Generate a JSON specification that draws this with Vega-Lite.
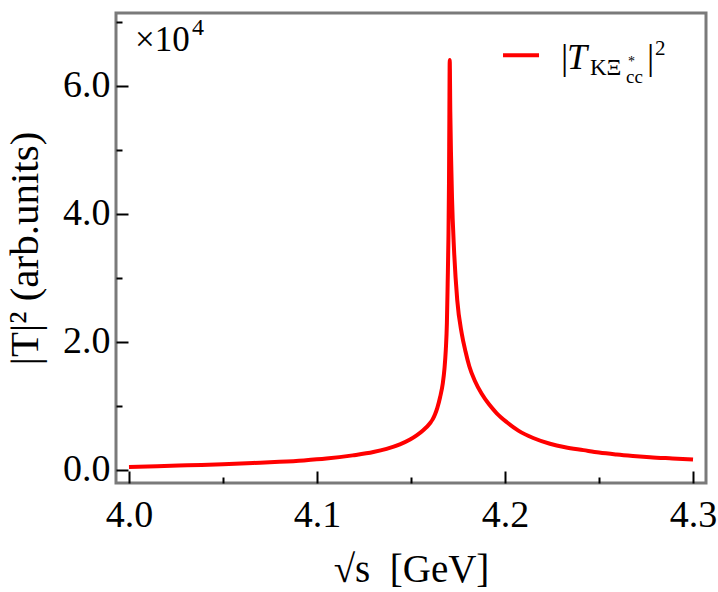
{
  "$schema": "https://vega.github.io/schema/vega-lite/v6.json",
  "width": 590,
  "height": 470,
  "autosize": {"type": "none"},
  "padding": {"left": 116, "top": 13, "right": 12, "bottom": 109},
  "background": "white",
  "config": {
    "font": "Liberation Serif",
    "view": {"stroke": "#7a7a7a", "strokeWidth": 3},
    "axis": {
      "domain": false,
      "grid": false,
      "tickColor": "black",
      "tickWidth": 2,
      "labelFont": "Liberation Serif",
      "labelFontSize": 38,
      "labelColor": "black",
      "titleFont": "Liberation Serif",
      "titleFontSize": 38,
      "titleFontWeight": "normal",
      "titleColor": "black"
    }
  },
  "layer": [
    {
      "data": {
        "values": [
          {"s": 4.000, "T2": 0.047},
          {"s": 4.015, "T2": 0.058},
          {"s": 4.031, "T2": 0.073},
          {"s": 4.050, "T2": 0.090},
          {"s": 4.066, "T2": 0.110},
          {"s": 4.080, "T2": 0.128},
          {"s": 4.093, "T2": 0.150},
          {"s": 4.105, "T2": 0.178},
          {"s": 4.119, "T2": 0.228},
          {"s": 4.130, "T2": 0.280},
          {"s": 4.137, "T2": 0.330},
          {"s": 4.1441, "T2": 0.400},
          {"s": 4.1495, "T2": 0.475},
          {"s": 4.153, "T2": 0.540},
          {"s": 4.1565, "T2": 0.620},
          {"s": 4.1601, "T2": 0.730},
          {"s": 4.1615, "T2": 0.790},
          {"s": 4.1628, "T2": 0.870},
          {"s": 4.1640, "T2": 0.970},
          {"s": 4.1655, "T2": 1.140},
          {"s": 4.1669, "T2": 1.350},
          {"s": 4.1678, "T2": 1.580},
          {"s": 4.1685, "T2": 1.870},
          {"s": 4.1691, "T2": 2.300},
          {"s": 4.1695, "T2": 2.910},
          {"s": 4.1699, "T2": 3.600},
          {"s": 4.1702, "T2": 4.470},
          {"s": 4.1704, "T2": 5.500},
          {"s": 4.1706, "T2": 6.400},
          {"s": 4.1709, "T2": 5.600},
          {"s": 4.1713, "T2": 4.900},
          {"s": 4.1718, "T2": 4.260},
          {"s": 4.1729, "T2": 3.430},
          {"s": 4.1746, "T2": 2.650},
          {"s": 4.1770, "T2": 2.130},
          {"s": 4.1790, "T2": 1.850},
          {"s": 4.1810, "T2": 1.620},
          {"s": 4.1840, "T2": 1.390},
          {"s": 4.1876, "T2": 1.190},
          {"s": 4.1915, "T2": 1.025},
          {"s": 4.1956, "T2": 0.885},
          {"s": 4.2010, "T2": 0.745},
          {"s": 4.2071, "T2": 0.615},
          {"s": 4.2150, "T2": 0.500},
          {"s": 4.2239, "T2": 0.410},
          {"s": 4.2320, "T2": 0.355},
          {"s": 4.2417, "T2": 0.310},
          {"s": 4.2500, "T2": 0.272},
          {"s": 4.2594, "T2": 0.242},
          {"s": 4.2680, "T2": 0.220},
          {"s": 4.2771, "T2": 0.200},
          {"s": 4.2890, "T2": 0.180},
          {"s": 4.3000, "T2": 0.162}
        ]
      },
      "mark": {"type": "line", "color": "#ff0000", "strokeWidth": 4, "strokeJoin": "round", "interpolate": "monotone", "clip": true},
      "encoding": {
        "x": {
          "field": "s",
          "type": "quantitative",
          "scale": {"domain": [3.9931, 4.3069], "nice": false, "zero": false},
          "axis": {
            "title": "√s\u00a0\u00a0[GeV]",
            "values": [4.0, 4.05, 4.1, 4.15, 4.2, 4.25, 4.3],
            "labelExpr": "round(datum.value*100) % 10 != 0 ? '' : format(datum.value, '.1f')",
            "tickSize": {"condition": {"test": "round(datum.value*100) % 10 != 0", "value": -6}, "value": -12},
            "labelPadding": 25,
            "labelFlush": false,
            "labelOverlap": false,
            "titleFontSize": 39,
            "titlePadding": 10
          }
        },
        "y": {
          "field": "T2",
          "type": "quantitative",
          "scale": {"domain": [-0.203, 7.134], "nice": false, "zero": false},
          "axis": {
            "title": "|T|² (arb.units)",
            "values": [0, 1, 2, 3, 4, 5, 6, 7],
            "labelExpr": "round(datum.value) % 2 != 0 ? '' : format(datum.value, '.1f')",
            "tickSize": {"condition": {"test": "round(datum.value) % 2 != 0", "value": -6}, "value": -12},
            "labelPadding": 18,
            "labelFlush": false,
            "labelOverlap": false,
            "titleFontSize": 41,
            "titlePadding": 16
          }
        }
      }
    },
    {
      "data": {"values": [{}]},
      "mark": {"type": "rule", "color": "#ff0000", "strokeWidth": 4},
      "encoding": {"x": {"datum": 4.19894}, "x2": {"datum": 4.21809}, "y": {"datum": 6.474}}
    },
    {
      "data": {"values": [{}]},
      "mark": {"type": "text", "text": "×10", "fontSize": 35, "align": "left", "baseline": "alphabetic", "color": "black"},
      "encoding": {"x": {"datum": 4.00319}, "y": {"datum": 6.541}}
    },
    {
      "data": {"values": [{}]},
      "mark": {"type": "text", "text": "4", "fontSize": 24, "align": "left", "baseline": "alphabetic", "color": "black"},
      "encoding": {"x": {"datum": 4.03351}, "y": {"datum": 6.783}}
    },
    {
      "data": {"values": [{}]},
      "mark": {"type": "text", "text": "|", "fontSize": 36, "align": "left", "baseline": "alphabetic", "color": "black"},
      "encoding": {"x": {"datum": 4.22979}, "y": {"datum": 6.266}}
    },
    {
      "data": {"values": [{}]},
      "mark": {"type": "text", "text": "T", "fontSize": 36, "fontStyle": "italic", "align": "left", "baseline": "alphabetic", "color": "black"},
      "encoding": {"x": {"datum": 4.23298}, "y": {"datum": 6.266}}
    },
    {
      "data": {"values": [{}]},
      "mark": {"type": "text", "text": "KΞ", "fontSize": 23, "align": "left", "baseline": "alphabetic", "color": "black"},
      "encoding": {"x": {"datum": 4.24521}, "y": {"datum": 6.161}}
    },
    {
      "data": {"values": [{}]},
      "mark": {"type": "text", "text": "*", "fontSize": 14, "align": "left", "baseline": "alphabetic", "color": "black"},
      "encoding": {"x": {"datum": 4.26542}, "y": {"datum": 6.30}}
    },
    {
      "data": {"values": [{}]},
      "mark": {"type": "text", "text": "cc", "fontSize": 19, "align": "left", "baseline": "alphabetic", "color": "black"},
      "encoding": {"x": {"datum": 4.26436}, "y": {"datum": 6.040}}
    },
    {
      "data": {"values": [{}]},
      "mark": {"type": "text", "text": "|", "fontSize": 36, "align": "left", "baseline": "alphabetic", "color": "black"},
      "encoding": {"x": {"datum": 4.2755}, "y": {"datum": 6.266}}
    },
    {
      "data": {"values": [{}]},
      "mark": {"type": "text", "text": "2", "fontSize": 21, "align": "left", "baseline": "alphabetic", "color": "black"},
      "encoding": {"x": {"datum": 4.27979}, "y": {"datum": 6.474}}
    }
  ]
}
